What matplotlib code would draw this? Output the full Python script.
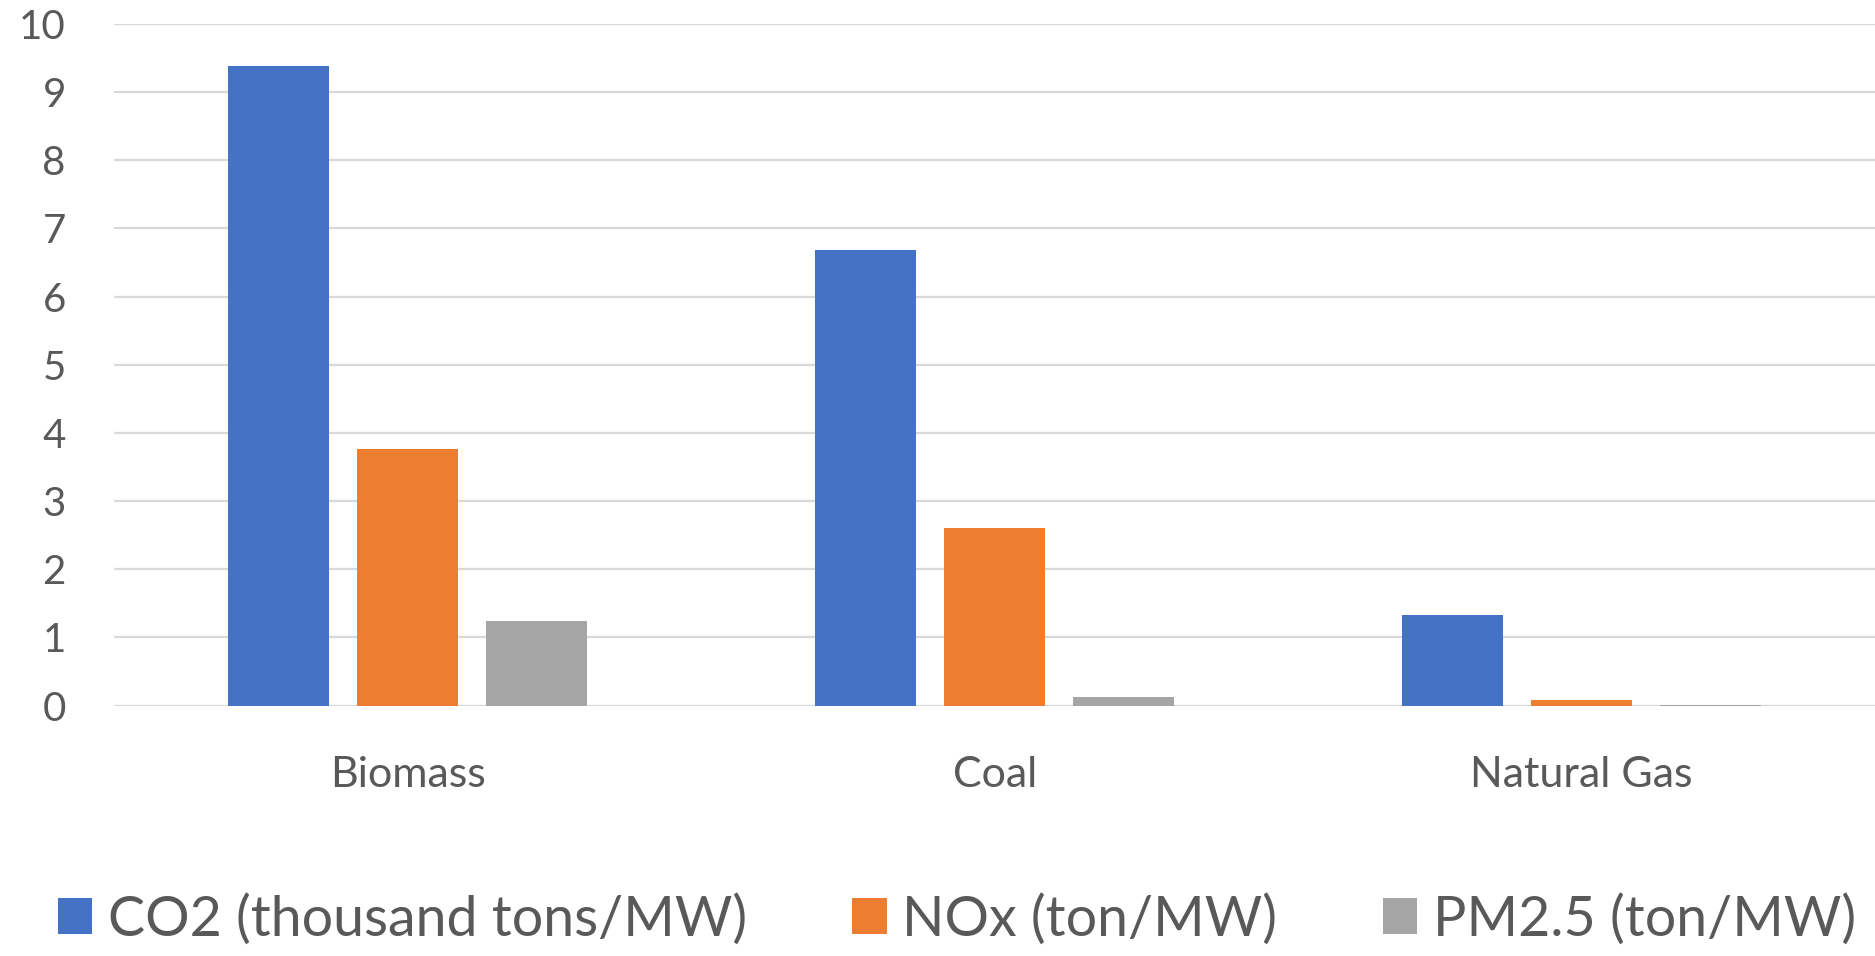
import matplotlib
matplotlib.use("Agg")
import matplotlib.pyplot as plt
import numpy as np

categories = ["Biomass", "Coal", "Natural Gas"]
series_names = ["CO2 (thousand tons/MW)", "NOx (ton/MW)", "PM2.5 (ton/MW)"]
co2 = [9.38, 6.68, 1.33]
nox = [3.76, 2.60, 0.08]
pm25 = [1.24, 0.13, 0.01]
yticks = [0, 1, 2, 3, 4, 5, 6, 7, 8, 9, 10]

colors = ["#4472C4", "#ED7D31", "#A5A5A5"]
text_color = "#595959"

plt.rcParams["font.family"] = ["Lato", "DejaVu Sans"]

fig = plt.figure(figsize=(18.75, 9.56), dpi=100)
ax = fig.add_axes([0.061, 0.262, 0.939, 0.713])

x = np.arange(len(categories))
bw = 0.172
offs = [-0.22, 0.0, 0.22]
for vals, name, c, o in zip([co2, nox, pm25], series_names, colors, offs):
    ax.bar(x + o, vals, width=bw, color=c, label=name, zorder=3)

ax.set_xlim(-0.5, 2.5)
ax.set_ylim(0, 10)
ax.set_yticks(yticks)
ax.set_yticklabels([str(t) for t in yticks])
ax.set_xticks(x)
ax.set_xticklabels(categories)
ax.grid(axis="y", color="#D9D9D9", linewidth=1.6, zorder=0)
for s in ax.spines.values():
    s.set_visible(False)
ax.tick_params(axis="y", length=0, colors=text_color, labelsize=29, pad=35)
ax.tick_params(axis="x", length=0, colors=text_color, labelsize=31, pad=36)
for lbl in ax.get_yticklabels() + ax.get_xticklabels():
    lbl.set_color(text_color)

leg = fig.legend(loc="lower center", ncol=3, bbox_to_anchor=(0.5104, -0.024),
                 frameon=False, fontsize=40, handlelength=0.62, handleheight=0.62,
                 handletextpad=0.28, columnspacing=1.9, borderpad=0.1,
                 labelcolor=text_color)

fig.savefig("out.png", dpi=100, facecolor="white")
